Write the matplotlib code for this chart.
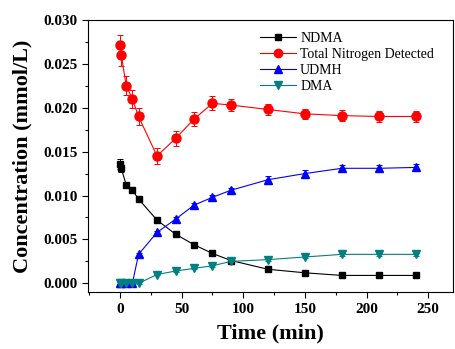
import numpy as np
import matplotlib
matplotlib.use('Agg')
import matplotlib.pyplot as plt
from matplotlib.ticker import MultipleLocator
from matplotlib.lines import Line2D

# Data
time = [0, 1, 5, 10, 15, 30, 45, 60, 75, 90, 120, 150, 180, 210, 240]
ndma = [0.0136, 0.0131, 0.0112, 0.0106, 0.0096, 0.0072, 0.0056, 0.0044, 0.0034, 0.0026, 0.0016, 0.0012, 0.0009, 0.0009, 0.0009]
total_n = [0.0271, 0.0260, 0.0225, 0.0210, 0.0190, 0.0145, 0.0165, 0.0187, 0.0205, 0.0203, 0.0198, 0.0193, 0.0191, 0.0190, 0.0190]
udmh = [0.0, 0.0, 0.0, 0.0, 0.0033, 0.0058, 0.0073, 0.0089, 0.0098, 0.0106, 0.0118, 0.0125, 0.0131, 0.0131, 0.0132]
dma = [0.0, 0.0, 0.0, 0.0, 0.0, 0.0010, 0.0014, 0.0017, 0.0020, 0.0025, 0.0027, 0.0030, 0.0033, 0.0033, 0.0033]

ndma_err = [0.0006, 0.0004, 0.0003, 0.0002, 0.0002, 0.0001, 0.0001, 0.0001, 0.0001, 0.0001, 0.0001, 0.0001, 0.0001, 0.0001, 0.0001]
total_err = [0.0012, 0.0012, 0.0011, 0.0010, 0.0010, 0.0009, 0.0009, 0.0008, 0.0008, 0.0007, 0.0006, 0.0006, 0.0006, 0.0006, 0.0006]
udmh_err = [0.0001, 0.0001, 0.0001, 0.0001, 0.0002, 0.0002, 0.0002, 0.0003, 0.0003, 0.0003, 0.0004, 0.0004, 0.0004, 0.0004, 0.0004]
dma_err = [0.0001, 0.0001, 0.0001, 0.0001, 0.0001, 0.0001, 0.0001, 0.0001, 0.0001, 0.0001, 0.0001, 0.0001, 0.0002, 0.0002, 0.0002]

plt.rcParams['font.family'] = ['Liberation Serif', 'DejaVu Serif']

fig = plt.figure(figsize=(4.56, 3.49), dpi=100)
ax = fig.add_axes([0.193, 0.163, 0.800, 0.780])

series = [
    (ndma, ndma_err, 'NDMA', 's', 'black', 5),
    (total_n, total_err, 'Total Nitrogen Detected', 'o', 'red', 6.5),
    (udmh, udmh_err, 'UDMH', '^', 'blue', 6),
    (dma, dma_err, 'DMA', 'v', '#008080', 6),
]
handles = []
for vals, errs, label, mk, col, ms in series:
    ax.errorbar(time, vals, yerr=errs, fmt='-', marker=mk, color=col, markersize=ms,
                linewidth=0.8, elinewidth=0.7, capsize=2.5, capthick=0.7,
                ecolor=col)
    handles.append(Line2D([], [], color=col, marker=mk, markersize=ms - 0.5,
                          linewidth=0.8, label=label))

ax.set_xlim(-26, 270)
ax.set_ylim(-0.001, 0.030)
ax.xaxis.set_major_locator(MultipleLocator(50))
ax.xaxis.set_minor_locator(MultipleLocator(25))
ax.yaxis.set_major_locator(MultipleLocator(0.005))
ax.yaxis.set_minor_locator(MultipleLocator(0.0025))
ax.yaxis.set_major_formatter(plt.FormatStrFormatter('%.3f'))
ax.tick_params(which='both', direction='out', top=False, right=False)
ax.tick_params(which='major', length=4, width=0.8, labelsize=11)
ax.tick_params(which='minor', length=2.5, width=0.8)
for lbl in ax.get_xticklabels() + ax.get_yticklabels():
    lbl.set_fontweight('bold')
for sp in ax.spines.values():
    sp.set_linewidth(0.8)

ax.set_xlabel('Time (min)', fontsize=16, fontweight='bold', labelpad=6)
ax.set_ylabel('Concentration (mmol/L)', fontsize=16, fontweight='bold', labelpad=8)

ax.legend(handles=handles, loc='upper right', bbox_to_anchor=(0.975, 0.99),
          frameon=False, fontsize=10, handlelength=2.6,
          labelspacing=0.2, borderaxespad=0.3, handletextpad=0.3)

fig.savefig('out.png', dpi=100)
